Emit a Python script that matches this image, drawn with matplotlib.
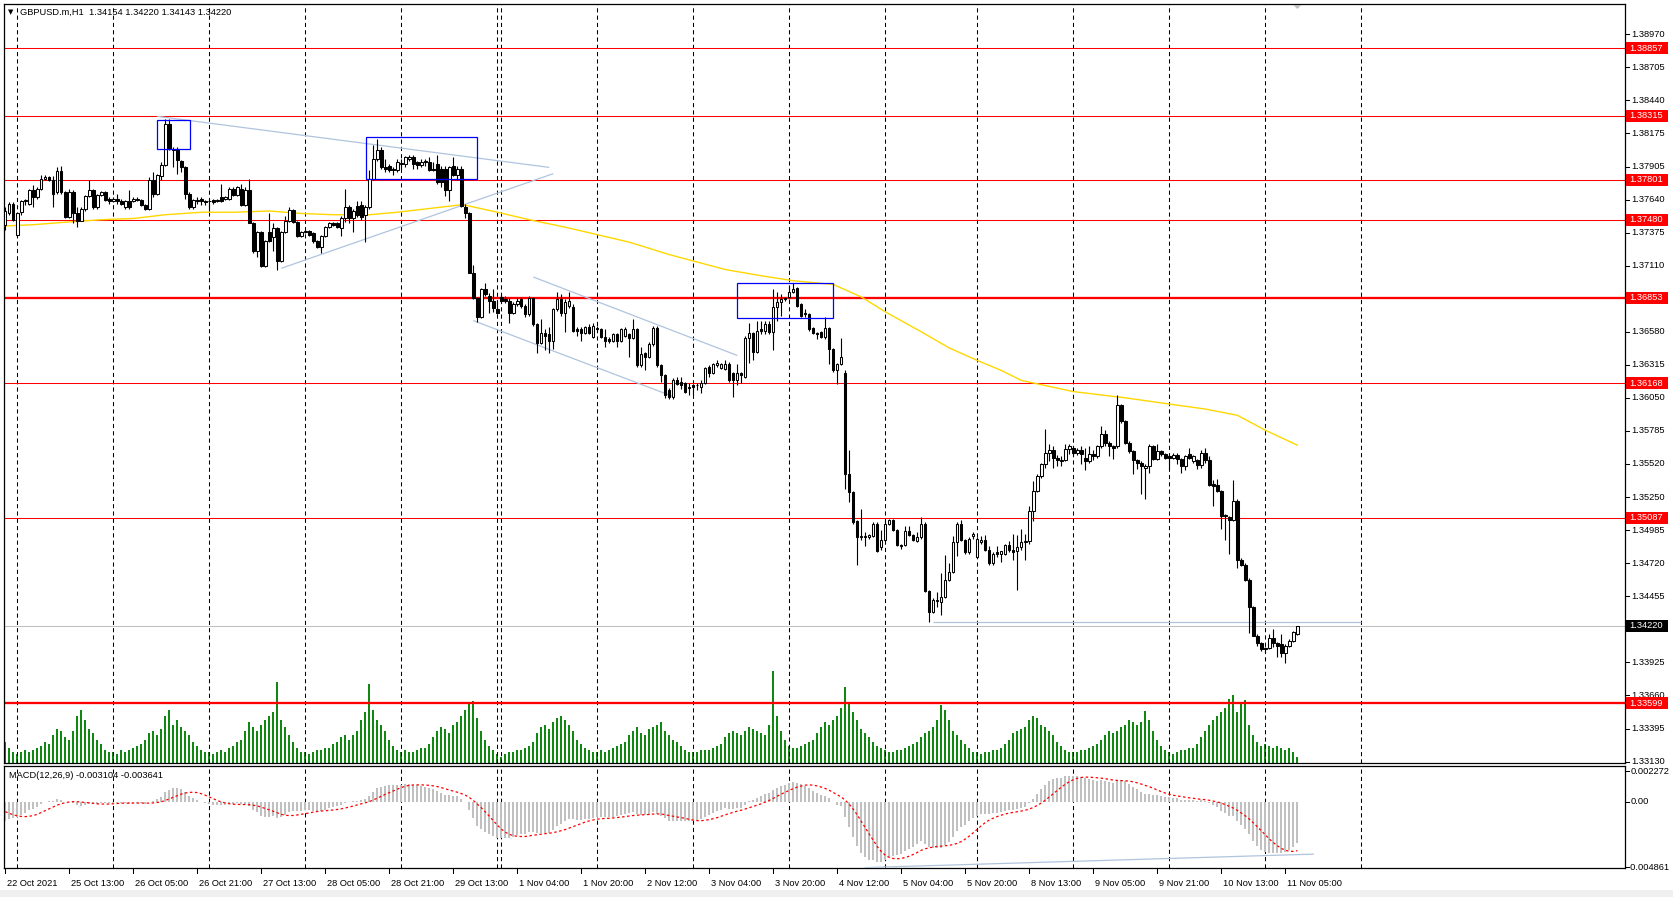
import numpy as np
import matplotlib
matplotlib.use("Agg")
import matplotlib.pyplot as plt
from matplotlib.patches import Rectangle, Polygon

# ---------------- data ----------------
symbol_header = "GBPUSD.m,H1  1.34154 1.34220 1.34143 1.34220"
macd_header = "MACD(12,26,9) -0.003104 -0.003641"

ohlc = [
 (1.3744,1.3758,1.3740,1.3755),(1.3753,1.3762,1.3752,1.3761),(1.3761,1.3762,1.3747,1.3748),
 (1.3736,1.3753,1.3735,1.3753),(1.3754,1.3764,1.3752,1.3763),(1.3763,1.3765,1.3760,1.3764),
 (1.3761,1.3773,1.3760,1.3772),(1.3772,1.3776,1.3758,1.3766),(1.3766,1.3774,1.3765,1.3773),
 (1.3773,1.3784,1.3772,1.3781),(1.3781,1.3784,1.3780,1.3782),(1.3782,1.3783,1.3779,1.3780),
 (1.3780,1.3783,1.3758,1.3769),(1.3770,1.3790,1.3769,1.3787),(1.3787,1.3791,1.3769,1.3770),
 (1.3770,1.3771,1.3749,1.3750),(1.3750,1.3773,1.3749,1.3770),(1.3770,1.3772,1.3745,1.3753),
 (1.3753,1.3758,1.3742,1.3747),(1.3747,1.3758,1.3747,1.3757),(1.3757,1.3768,1.3755,1.3767),
 (1.3767,1.3780,1.3766,1.3772),(1.3772,1.3773,1.3757,1.3758),(1.3758,1.3769,1.3757,1.3768),
 (1.3768,1.3771,1.3767,1.3770),(1.3770,1.3771,1.3763,1.3764),(1.3765,1.3766,1.3761,1.3763),
 (1.3763,1.3766,1.3762,1.3765),(1.3765,1.3769,1.3761,1.3763),(1.3763,1.3765,1.3760,1.3761),
 (1.3758,1.3764,1.3757,1.3763),(1.3763,1.3772,1.3757,1.3758),(1.3763,1.3766,1.3762,1.3765),
 (1.3765,1.3766,1.3763,1.3764),(1.3764,1.3765,1.3759,1.3760),(1.3760,1.3761,1.3756,1.3757),
 (1.3757,1.3782,1.3756,1.3780),(1.3780,1.3786,1.3766,1.3769),(1.3769,1.3785,1.3768,1.3784),
 (1.3783,1.3794,1.3780,1.3792),(1.3792,1.3829,1.3791,1.3825),(1.3825,1.3829,1.3804,1.3805),
 (1.3805,1.3806,1.3790,1.3804),(1.3805,1.3806,1.3785,1.3796),(1.3795,1.3796,1.3786,1.3790),
 (1.3790,1.3791,1.3765,1.3769),(1.3769,1.3770,1.3757,1.3758),(1.3758,1.3765,1.3757,1.3764),
 (1.3764,1.3766,1.3761,1.3763),(1.3765,1.3766,1.3760,1.3763),(1.3763,1.3764,1.3760,1.3762),
 (1.3763,1.3765,1.3755,1.3763),(1.3764,1.3765,1.3761,1.3762),(1.3763,1.3765,1.3762,1.3764),
 (1.3766,1.3777,1.3762,1.3763),(1.3765,1.3767,1.3764,1.3766),(1.3765,1.3774,1.3764,1.3773),
 (1.3773,1.3774,1.3767,1.3768),(1.3768,1.3775,1.3767,1.3774),(1.3773,1.3777,1.3759,1.3760),
 (1.3760,1.3774,1.3759,1.3772),(1.3772,1.3781,1.3745,1.3745),(1.3745,1.3746,1.3721,1.3723),
 (1.3723,1.3739,1.3718,1.3738),(1.3738,1.3739,1.3710,1.3711),(1.3711,1.3732,1.3710,1.3731),
 (1.3738,1.3753,1.3730,1.3731),(1.3734,1.3745,1.3723,1.3741),(1.3741,1.3742,1.3708,1.3715),
 (1.3715,1.3739,1.3714,1.3738),(1.3738,1.3751,1.3737,1.3747),(1.3747,1.3758,1.3746,1.3756),
 (1.3756,1.3757,1.3745,1.3746),(1.3746,1.3747,1.3734,1.3735),(1.3735,1.3739,1.3734,1.3738),
 (1.3738,1.3740,1.3737,1.3739),(1.3739,1.3740,1.3735,1.3736),(1.3737,1.3738,1.3729,1.3731),
 (1.3731,1.3732,1.3725,1.3726),(1.3726,1.3736,1.3721,1.3735),(1.3735,1.3743,1.3734,1.3742),
 (1.3742,1.3746,1.3741,1.3745),(1.3745,1.3746,1.3743,1.3744),(1.3745,1.3746,1.3741,1.3742),
 (1.3741,1.3751,1.3735,1.3749),(1.3749,1.3773,1.3746,1.3758),(1.3758,1.3760,1.3745,1.3749),
 (1.3749,1.3757,1.3738,1.3755),(1.3759,1.3763,1.3750,1.3752),(1.3760,1.3763,1.3748,1.3750),
 (1.3752,1.3760,1.3730,1.3758),(1.3758,1.3788,1.3757,1.3781),(1.3781,1.3808,1.3780,1.3797),
 (1.3797,1.3813,1.3795,1.3804),(1.3804,1.3806,1.3789,1.3790),(1.3790,1.3797,1.3786,1.3789),
 (1.3791,1.3793,1.3786,1.3788),(1.3789,1.3790,1.3784,1.3788),(1.3788,1.3797,1.3786,1.3794),
 (1.3793,1.3797,1.3789,1.3793),(1.3793,1.3799,1.3790,1.3798),(1.3797,1.3800,1.3795,1.3798),
 (1.3798,1.3800,1.3789,1.3793),(1.3794,1.3795,1.3789,1.3792),(1.3792,1.3797,1.3790,1.3794),
 (1.3795,1.3797,1.3791,1.3794),(1.3794,1.3798,1.3787,1.3788),(1.3789,1.3794,1.3787,1.3788),
 (1.3793,1.3800,1.3777,1.3778),(1.3789,1.3791,1.3774,1.3778),(1.3789,1.3791,1.3767,1.3772),
 (1.3772,1.3791,1.3763,1.3790),(1.3791,1.3798,1.3783,1.3784),(1.3784,1.3791,1.3780,1.3789),
 (1.3789,1.3791,1.3758,1.3759),(1.3758,1.3761,1.3749,1.3753),(1.3753,1.3754,1.3705,1.3705),
 (1.3705,1.3712,1.3684,1.3685),(1.3685,1.3686,1.3666,1.3670),(1.3670,1.3693,1.3669,1.3692),
 (1.3692,1.3697,1.3687,1.3688),(1.3687,1.3689,1.3673,1.3683),(1.3683,1.3692,1.3674,1.3677),
 (1.3676,1.3683,1.3672,1.3673),(1.3686,1.3688,1.3682,1.3683),(1.3684,1.3687,1.3681,1.3683),
 (1.3683,1.3685,1.3665,1.3673),(1.3673,1.3682,1.3672,1.3680),(1.3680,1.3685,1.3679,1.3683),
 (1.3684,1.3686,1.3677,1.3679),(1.3679,1.3680,1.3670,1.3672),(1.3672,1.3687,1.3671,1.3685),
 (1.3685,1.3686,1.3663,1.3664),(1.3664,1.3665,1.3641,1.3649),(1.3649,1.3668,1.3648,1.3657),
 (1.3657,1.3660,1.3643,1.3655),(1.3656,1.3662,1.3641,1.3651),(1.3651,1.3677,1.3644,1.3676),
 (1.3676,1.3690,1.3675,1.3684),(1.3684,1.3688,1.3671,1.3673),(1.3673,1.3684,1.3658,1.3682),
 (1.3679,1.3690,1.3677,1.3683),(1.3678,1.3680,1.3658,1.3659),(1.3660,1.3662,1.3655,1.3659),
 (1.3660,1.3662,1.3651,1.3657),(1.3657,1.3663,1.3656,1.3662),(1.3662,1.3664,1.3656,1.3657),
 (1.3654,1.3665,1.3653,1.3663),(1.3661,1.3663,1.3659,1.3660),(1.3660,1.3661,1.3653,1.3654),
 (1.3654,1.3660,1.3646,1.3651),(1.3652,1.3654,1.3649,1.3651),(1.3651,1.3657,1.3650,1.3656),
 (1.3656,1.3657,1.3646,1.3651),(1.3651,1.3661,1.3650,1.3660),(1.3655,1.3662,1.3654,1.3660),
 (1.3656,1.3657,1.3638,1.3653),(1.3653,1.3668,1.3652,1.3660),(1.3660,1.3661,1.3630,1.3631),
 (1.3631,1.3646,1.3630,1.3640),(1.3641,1.3642,1.3627,1.3638),(1.3638,1.3650,1.3637,1.3648),
 (1.3648,1.3663,1.3647,1.3661),(1.3661,1.3663,1.3630,1.3631),(1.3631,1.3632,1.3618,1.3623),
 (1.3623,1.3624,1.3605,1.3607),(1.3611,1.3613,1.3604,1.3606),(1.3606,1.3621,1.3604,1.3619),
 (1.3619,1.3622,1.3615,1.3616),(1.3618,1.3622,1.3612,1.3615),(1.3617,1.3618,1.3609,1.3610),
 (1.3614,1.3617,1.3607,1.3613),(1.3615,1.3616,1.3607,1.3614),(1.3615,1.3617,1.3611,1.3615),
 (1.3614,1.3619,1.3609,1.3617),(1.3617,1.3630,1.3616,1.3629),(1.3630,1.3631,1.3622,1.3625),
 (1.3625,1.3633,1.3624,1.3632),(1.3631,1.3635,1.3630,1.3633),(1.3629,1.3633,1.3628,1.3632),
 (1.3628,1.3635,1.3627,1.3632),(1.3632,1.3634,1.3618,1.3619),(1.3625,1.3626,1.3606,1.3619),
 (1.3619,1.3632,1.3615,1.3625),(1.3625,1.3626,1.3617,1.3623),(1.3622,1.3655,1.3621,1.3653),
 (1.3653,1.3665,1.3633,1.3657),(1.3657,1.3658,1.3635,1.3642),(1.3642,1.3667,1.3641,1.3659),
 (1.3660,1.3667,1.3656,1.3659),(1.3659,1.3667,1.3656,1.3664),(1.3664,1.3667,1.3656,1.3658),
 (1.3658,1.3692,1.3643,1.3678),(1.3678,1.3690,1.3667,1.3682),(1.3682,1.3688,1.3671,1.3684),
 (1.3684,1.3686,1.3683,1.3685),(1.3686,1.3695,1.3684,1.3690),(1.3690,1.3697,1.3689,1.3692),
 (1.3693,1.3694,1.3678,1.3679),(1.3680,1.3681,1.3670,1.3671),(1.3673,1.3676,1.3670,1.3672),
 (1.3672,1.3673,1.3659,1.3660),(1.3661,1.3662,1.3656,1.3657),(1.3657,1.3658,1.3652,1.3656),
 (1.3658,1.3659,1.3653,1.3654),(1.3654,1.3670,1.3652,1.3661),(1.3661,1.3662,1.3632,1.3644),
 (1.3644,1.3645,1.3626,1.3627),(1.3627,1.3633,1.3616,1.3632),(1.3632,1.3653,1.3631,1.3638),
 (1.3625,1.3627,1.3532,1.3544),(1.3544,1.3563,1.3521,1.3529),(1.3529,1.3530,1.3504,1.3505),
 (1.3506,1.3507,1.3471,1.3493),(1.3493,1.3516,1.3491,1.3494),(1.3493,1.3497,1.3486,1.3494),
 (1.3493,1.3496,1.3492,1.3495),(1.3494,1.3505,1.3493,1.3504),(1.3504,1.3505,1.3481,1.3482),
 (1.3485,1.3499,1.3483,1.3491),(1.3491,1.3507,1.3490,1.3504),(1.3504,1.3508,1.3503,1.3507),
 (1.3507,1.3508,1.3498,1.3499),(1.3499,1.3500,1.3486,1.3487),(1.3487,1.3488,1.3484,1.3486),
 (1.3487,1.3502,1.3486,1.3498),(1.3498,1.3502,1.3494,1.3495),(1.3495,1.3496,1.3490,1.3491),
 (1.3490,1.3497,1.3489,1.3493),(1.3493,1.3509,1.3492,1.3504),(1.3504,1.3505,1.3449,1.3450),
 (1.3450,1.3451,1.3425,1.3433),(1.3433,1.3444,1.3432,1.3443),(1.3442,1.3449,1.3437,1.3443),
 (1.3441,1.3464,1.3431,1.3445),(1.3445,1.3479,1.3444,1.3459),(1.3459,1.3472,1.3458,1.3465),
 (1.3465,1.3494,1.3464,1.3489),(1.3489,1.3505,1.3478,1.3504),(1.3504,1.3507,1.3490,1.3491),
 (1.3491,1.3492,1.3480,1.3481),(1.3481,1.3493,1.3480,1.3492),(1.3494,1.3497,1.3492,1.3496),
 (1.3477,1.3493,1.3476,1.3492),(1.3489,1.3494,1.3488,1.3491),(1.3491,1.3495,1.3482,1.3483),
 (1.3483,1.3486,1.3471,1.3472),(1.3472,1.3481,1.3471,1.3480),(1.3481,1.3486,1.3477,1.3480),
 (1.3480,1.3482,1.3473,1.3482),(1.3480,1.3488,1.3479,1.3487),(1.3487,1.3490,1.3481,1.3483),
 (1.3483,1.3496,1.3475,1.3481),(1.3482,1.3495,1.3451,1.3485),(1.3485,1.3500,1.3483,1.3489),
 (1.3489,1.3496,1.3475,1.3490),(1.3490,1.3518,1.3488,1.3514),(1.3514,1.3538,1.3506,1.3530),
 (1.3530,1.3544,1.3529,1.3542),(1.3542,1.3553,1.3541,1.3552),(1.3552,1.3580,1.3549,1.3561),
 (1.3561,1.3568,1.3554,1.3563),(1.3563,1.3566,1.3549,1.3557),(1.3557,1.3559,1.3550,1.3555),
 (1.3554,1.3558,1.3550,1.3555),(1.3555,1.3568,1.3554,1.3564),(1.3564,1.3568,1.3560,1.3566),
 (1.3565,1.3566,1.3559,1.3561),(1.3561,1.3565,1.3559,1.3563),(1.3563,1.3566,1.3552,1.3560),
 (1.3557,1.3565,1.3547,1.3554),(1.3554,1.3566,1.3553,1.3560),(1.3560,1.3563,1.3555,1.3558),
 (1.3558,1.3567,1.3557,1.3566),(1.3566,1.3582,1.3565,1.3576),(1.3576,1.3579,1.3566,1.3569),
 (1.3569,1.3570,1.3558,1.3566),(1.3566,1.3567,1.3556,1.3565),(1.3566,1.3607,1.3565,1.3599),
 (1.3599,1.3600,1.3585,1.3586),(1.3586,1.3587,1.3568,1.3569),(1.3569,1.3570,1.3561,1.3562),
 (1.3562,1.3563,1.3544,1.3555),(1.3555,1.3556,1.3548,1.3553),(1.3553,1.3554,1.3528,1.3550),
 (1.3549,1.3552,1.3524,1.3550),(1.3550,1.3568,1.3545,1.3566),(1.3566,1.3567,1.3555,1.3556),
 (1.3556,1.3568,1.3555,1.3562),(1.3562,1.3563,1.3558,1.3560),(1.3560,1.3561,1.3556,1.3557),
 (1.3558,1.3560,1.3548,1.3557),(1.3557,1.3561,1.3556,1.3559),(1.3559,1.3561,1.3552,1.3556),
 (1.3556,1.3557,1.3545,1.3550),(1.3550,1.3559,1.3547,1.3558),(1.3560,1.3565,1.3556,1.3557),
 (1.3554,1.3559,1.3553,1.3558),(1.3555,1.3556,1.3548,1.3551),(1.3551,1.3563,1.3549,1.3561),
 (1.3561,1.3565,1.3553,1.3555),(1.3555,1.3558,1.3534,1.3535),(1.3536,1.3539,1.3518,1.3534),
 (1.3535,1.3540,1.3529,1.3530),(1.3530,1.3531,1.3500,1.3510),(1.3511,1.3512,1.3491,1.3510),
 (1.3509,1.3510,1.3480,1.3507),(1.3507,1.3539,1.3506,1.3522),(1.3522,1.3524,1.3468,1.3475),
 (1.3475,1.3476,1.3470,1.3471),(1.3471,1.3472,1.3458,1.3459),(1.3459,1.3460,1.3416,1.3437),
 (1.3437,1.3438,1.3414,1.3414),(1.3414,1.3415,1.3406,1.3408),(1.3408,1.3409,1.3402,1.3403),
 (1.3404,1.3405,1.3400,1.3403),(1.3404,1.3415,1.3403,1.3412),(1.3412,1.3419,1.3405,1.3408),
 (1.3408,1.3409,1.3397,1.3406),(1.3407,1.3415,1.3397,1.3400),(1.3400,1.3407,1.3392,1.3406),
 (1.3406,1.3411,1.3405,1.3410),(1.3410,1.3418,1.3409,1.3417),(1.34154,1.34220,1.34143,1.34220),
]
opens = [r[0] for r in ohlc]
highs = [r[1] for r in ohlc]
lows = [r[2] for r in ohlc]
closes = [r[3] for r in ohlc]

volumes = (
    [20,14,10] +
    [8,10,12,10,12,14,16,20,18,26,32,30,24,22,30,44,50,40,32,28,22,18,12,10] +
    [10,8,12,10,12,14,16,18,22,28,30,26,32,44,50,36,40,34,30,26,20,16,12,10] +
    [10,8,10,12,10,14,16,20,22,30,38,34,30,36,40,44,48,76,40,34,26,20,14,10] +
    [10,8,10,12,12,14,14,18,20,24,26,22,26,30,40,48,74,50,40,36,30,22,16,12] +
    [10,12,10,10,12,14,14,18,24,30,34,32,28,36,38,44,50,56,58,42,30,22,16,12] +
    [8] +
    [6,8,10,10,12,12,14,16,20,28,34,36,32,38,42,44,40,36,30,22,18,14,12,10] +
    [10,12,10,12,14,16,18,20,26,30,34,28,26,32,34,36,38,30,26,22,20,16,12,10] +
    [10,10,12,12,12,14,16,18,24,28,30,28,26,30,34,32,30,28,26,36,86,44,30,22] +
    [16,14,14,16,18,20,22,28,34,38,36,40,44,52,71,56,48,40,32,28,24,20,16,14] +
    [12,10,10,12,12,14,16,18,20,24,28,30,34,40,54,50,40,30,26,22,18,14,10] +
    [10,8,10,10,12,12,14,18,22,28,30,32,34,40,44,42,36,34,30,26,20,16,12,10] +
    [10,10,12,12,14,16,18,22,26,30,28,30,34,36,40,38,36,38,49,40,30,22,16,12] +
    [10,8,10,12,12,14,14,18,24,30,36,40,44,48,52,60,64,48,56,59,36,26,20,16] +
    [18,16,14,16,14,12,14,10,6]
)

# moving average (yellow) read at checkpoints
ma_bar = [0,7,15,24,32,40,49,57,66,74,82,91,98,106,114,116,123,131,140,148,156,161,166,
          180,189,197,207,214,220,229,236,243,249,254,267,280,291,300,308,315,323]
ma_val = [1.3743,1.3744,1.3746,1.3748,1.3749,1.3752,1.3754,1.3754,1.3755,1.3753,1.3752,1.3752,
          1.3754,1.3757,1.3760,1.3759,1.3754,1.3748,1.3742,1.3736,1.3730,1.3725,1.3720,
          1.3708,1.3703,1.3699,1.3696,1.3686,1.3674,1.3658,1.3645,1.3635,1.3627,1.3619,
          1.3610,1.3605,1.3600,1.3596,1.3591,1.3579,1.3567]

# MACD(12,26,9) state before the first visible bar
ema12_start, ema26_start = 1.3752, 1.3768
macd_before = [-0.0001,-0.0003,-0.0004,-0.0006,-0.0007,-0.0009,-0.0010,-0.0012]

red_levels = [1.38857,1.38315,1.37801,1.37480,1.36853,1.36168,1.35087,1.33599]
red_widths = [1,1,1,1,2.2,1,1,2.2]
bid_price = 1.34220

price_ticks = [1.38970,1.38705,1.38440,1.38175,1.37905,1.37640,1.37375,1.37110,1.36580,
               1.36315,1.36050,1.35785,1.35520,1.35250,1.34985,1.34720,1.34455,1.33925,
               1.33660,1.33395,1.33130]
macd_ticks = [0.002272, 0.0, -0.004861]
macd_tick_labels = ["0.002272", "0.00", "-0.004861"]

time_label_bars = list(range(0, 321, 16))
time_labels = ["22 Oct 2021","25 Oct 13:00","26 Oct 05:00","26 Oct 21:00","27 Oct 13:00",
               "28 Oct 05:00","28 Oct 21:00","29 Oct 13:00","1 Nov 04:00","1 Nov 20:00",
               "2 Nov 12:00","3 Nov 04:00","3 Nov 20:00","4 Nov 12:00","5 Nov 04:00",
               "5 Nov 20:00","8 Nov 13:00","9 Nov 05:00","9 Nov 21:00","10 Nov 13:00",
               "11 Nov 05:00"]
separator_bars = [3,27,51,75,99,123,124,148,172,196,220,243,267,291,315,339]

# trend lines: (bar0, price0, bar1, price1)
trend_lines = [(38,1.3831,136,1.3790),(69,1.3709,137,1.3785),(132,1.3702,183,1.3639),
               (117,1.3667,167,1.3606),(232,1.3425,339,1.3425)]
macd_trend = (215,-0.0049,327,-0.0039)
# rectangles: (bar0, bar1, price_low, price_high)
boxes = [(38,46.1,1.38045,1.38278),(90.1,118,1.37804,1.38142),(183,207,1.36688,1.36969)]

# ---------------- figure ----------------
W, H = 1673, 897
fig = plt.figure(figsize=(W/100, H/100), dpi=100)
fig.patch.set_facecolor("white")
FONT = "Liberation Sans"
FS = 6.7

def rect(x0, y0, x1, y1):
    return [x0/W, 1-y1/H, (x1-x0)/W, (y1-y0)/H]

PX0, PX1 = 4, 1625
MY0, MY1 = 4, 763
DY0, DY1 = 766, 868
xl = ((PX0-5.3)/4, (PX1-5.3)/4)
y_top, y_bot = 1.39212, 1.33118

axv = fig.add_axes(rect(PX0, MY0, PX1, MY1))
ax = fig.add_axes(rect(PX0, MY0, PX1, MY1))
axm = fig.add_axes(rect(PX0, DY0, PX1, DY1))
ax.set_zorder(axv.get_zorder()+1)
ax.patch.set_visible(False)

n = len(closes)
idx = np.arange(n)
o = np.array(opens); h = np.array(highs); l = np.array(lows); c = np.array(closes)

# volumes
axv.bar(idx, volumes, width=0.5, color="#118811", linewidth=0)
axv.set_ylim(0, (MY1-MY0)/1.0666)
axv.set_xlim(*xl)
axv.axis("off")

for a in (ax, axm):
    a.set_xlim(*xl)
    a.set_xticks([]); a.set_yticks([])
    for s in a.spines.values():
        s.set_color("black"); s.set_linewidth(0.9)
ax.set_ylim(y_bot, y_top)

# separators
for b in separator_bars:
    for a in (ax, axm):
        a.axvline(b, color="black", lw=0.75, ls=(0, (4, 3)), zorder=1)

# horizontal levels
for lev, lw in zip(red_levels, red_widths):
    ax.axhline(lev, color="#FF0000", lw=lw*0.75, zorder=2)
ax.axhline(bid_price, color="#C0C0C0", lw=0.75, zorder=2)

# trend lines & boxes
for b0, p0, b1, p1 in trend_lines:
    ax.plot([b0, b1], [p0, p1], color="#B0C4DE", lw=0.9, zorder=2.5, solid_capstyle="butt")
for b0, b1, p0, p1 in boxes:
    ax.add_patch(Rectangle((b0, p0), b1-b0, p1-p0, fill=False, edgecolor="#0000FF", lw=0.9, zorder=5))

# moving average
ax.plot(ma_bar, ma_val, color="#FFD700", lw=1.0, zorder=3)

# candles
ax.vlines(idx, l, h, color="black", lw=0.8, zorder=4)
up = c >= o
body_lo = np.minimum(o, c)
body_h = np.maximum(np.abs(c - o), 0.000025)
ax.bar(idx[up], body_h[up], bottom=body_lo[up], width=0.6, color="white",
       edgecolor="black", linewidth=0.75, zorder=4.5)
ax.bar(idx[~up], body_h[~up], bottom=body_lo[~up], width=0.6, color="black",
       edgecolor="black", linewidth=0.75, zorder=4.5)

# MACD
e12, e26 = ema12_start, ema26_start
macd = []
for px in closes:
    e12 += 2/13*(px-e12)
    e26 += 2/27*(px-e26)
    macd.append(e12-e26)
full = np.array(macd_before + macd)
signal = np.convolve(full, np.ones(9)/9, mode="valid")
axm.bar(idx, macd, width=0.55, color="#C0C0C0", linewidth=0, zorder=2)
axm.plot(idx, signal, color="#FF0000", lw=0.9, ls=(0, (2, 2)), zorder=3)
axm.plot([macd_trend[0], macd_trend[2]], [macd_trend[1], macd_trend[3]], color="#B0C4DE", lw=0.9, zorder=3)
axm.set_ylim(-0.00493, 0.00265)

# ---------------- text / axis labels ----------------
def ypix_price(p):
    return MY0 + (y_top - p)/(y_top - y_bot)*(MY1-MY0)
def ypix_macd(v):
    return DY0 + (0.00265 - v)/(0.00265+0.00493)*(DY1-DY0)
def xpix_bar(b):
    return PX0 + (b - xl[0])/(xl[1]-xl[0])*(PX1-PX0)

def ftext(x, y, s, **kw):
    fig.text(x/W, 1-y/H, s, fontfamily=FONT, fontsize=FS, **kw)

def tick(x0, x1, y0, y1):
    fig.add_artist(plt.Line2D([x0/W, x1/W], [1-y0/H, 1-y1/H], color="black", lw=0.75))

for p in price_ticks:
    y = ypix_price(p)
    tick(PX1, PX1+4, y, y)
    ftext(PX1+6, y, f"{p:.5f}", va="center", ha="left")

def tag(p, s, color):
    y = ypix_price(p)
    fig.add_artist(Rectangle(((PX1+1)/W, 1-(y+6)/H), 42/W, 12/H, transform=fig.transFigure,
                             facecolor=color, edgecolor="none", zorder=10))
    fig.text((PX1+4)/W, 1-y/H, s, fontfamily=FONT, fontsize=FS, color="white",
             va="center", ha="left", zorder=11)

for lev in red_levels:
    tag(lev, f"{lev:.5f}", "#FF0000")
tag(bid_price, f"{bid_price:.5f}", "#000000")

for v, s in zip(macd_ticks, macd_tick_labels):
    y = ypix_macd(v)
    tick(PX1, PX1+4, y, y)
    ftext(PX1+6 if not s.startswith("-") else PX1+3, y, s, va="center", ha="left")

for b, s in zip(time_label_bars, time_labels):
    x = xpix_bar(b)
    tick(x, x, DY1, DY1+5)
    ftext(x+2, 883, s, va="center", ha="left")

ftext(20, 12, symbol_header, va="center", ha="left")
fig.text(8/W, 1-12/H, "\u25BC", fontsize=5, va="center", ha="left", color="black")
ftext(9, 775, macd_header, va="center", ha="left")

# chart shift marker
xs = xpix_bar(323)
fig.add_artist(Polygon([[ (xs-4)/W, 1-5/H], [(xs+4)/W, 1-5/H], [xs/W, 1-9/H]],
                       closed=True, transform=fig.transFigure, facecolor="#C0C0C0",
                       edgecolor="none", zorder=10))

# window border strips
fig.add_artist(Rectangle((0, 0), 1, 7/H, transform=fig.transFigure, facecolor="#F0F0F0",
                         edgecolor="none", zorder=0))

fig.savefig("out.png", dpi=100, facecolor="white")
